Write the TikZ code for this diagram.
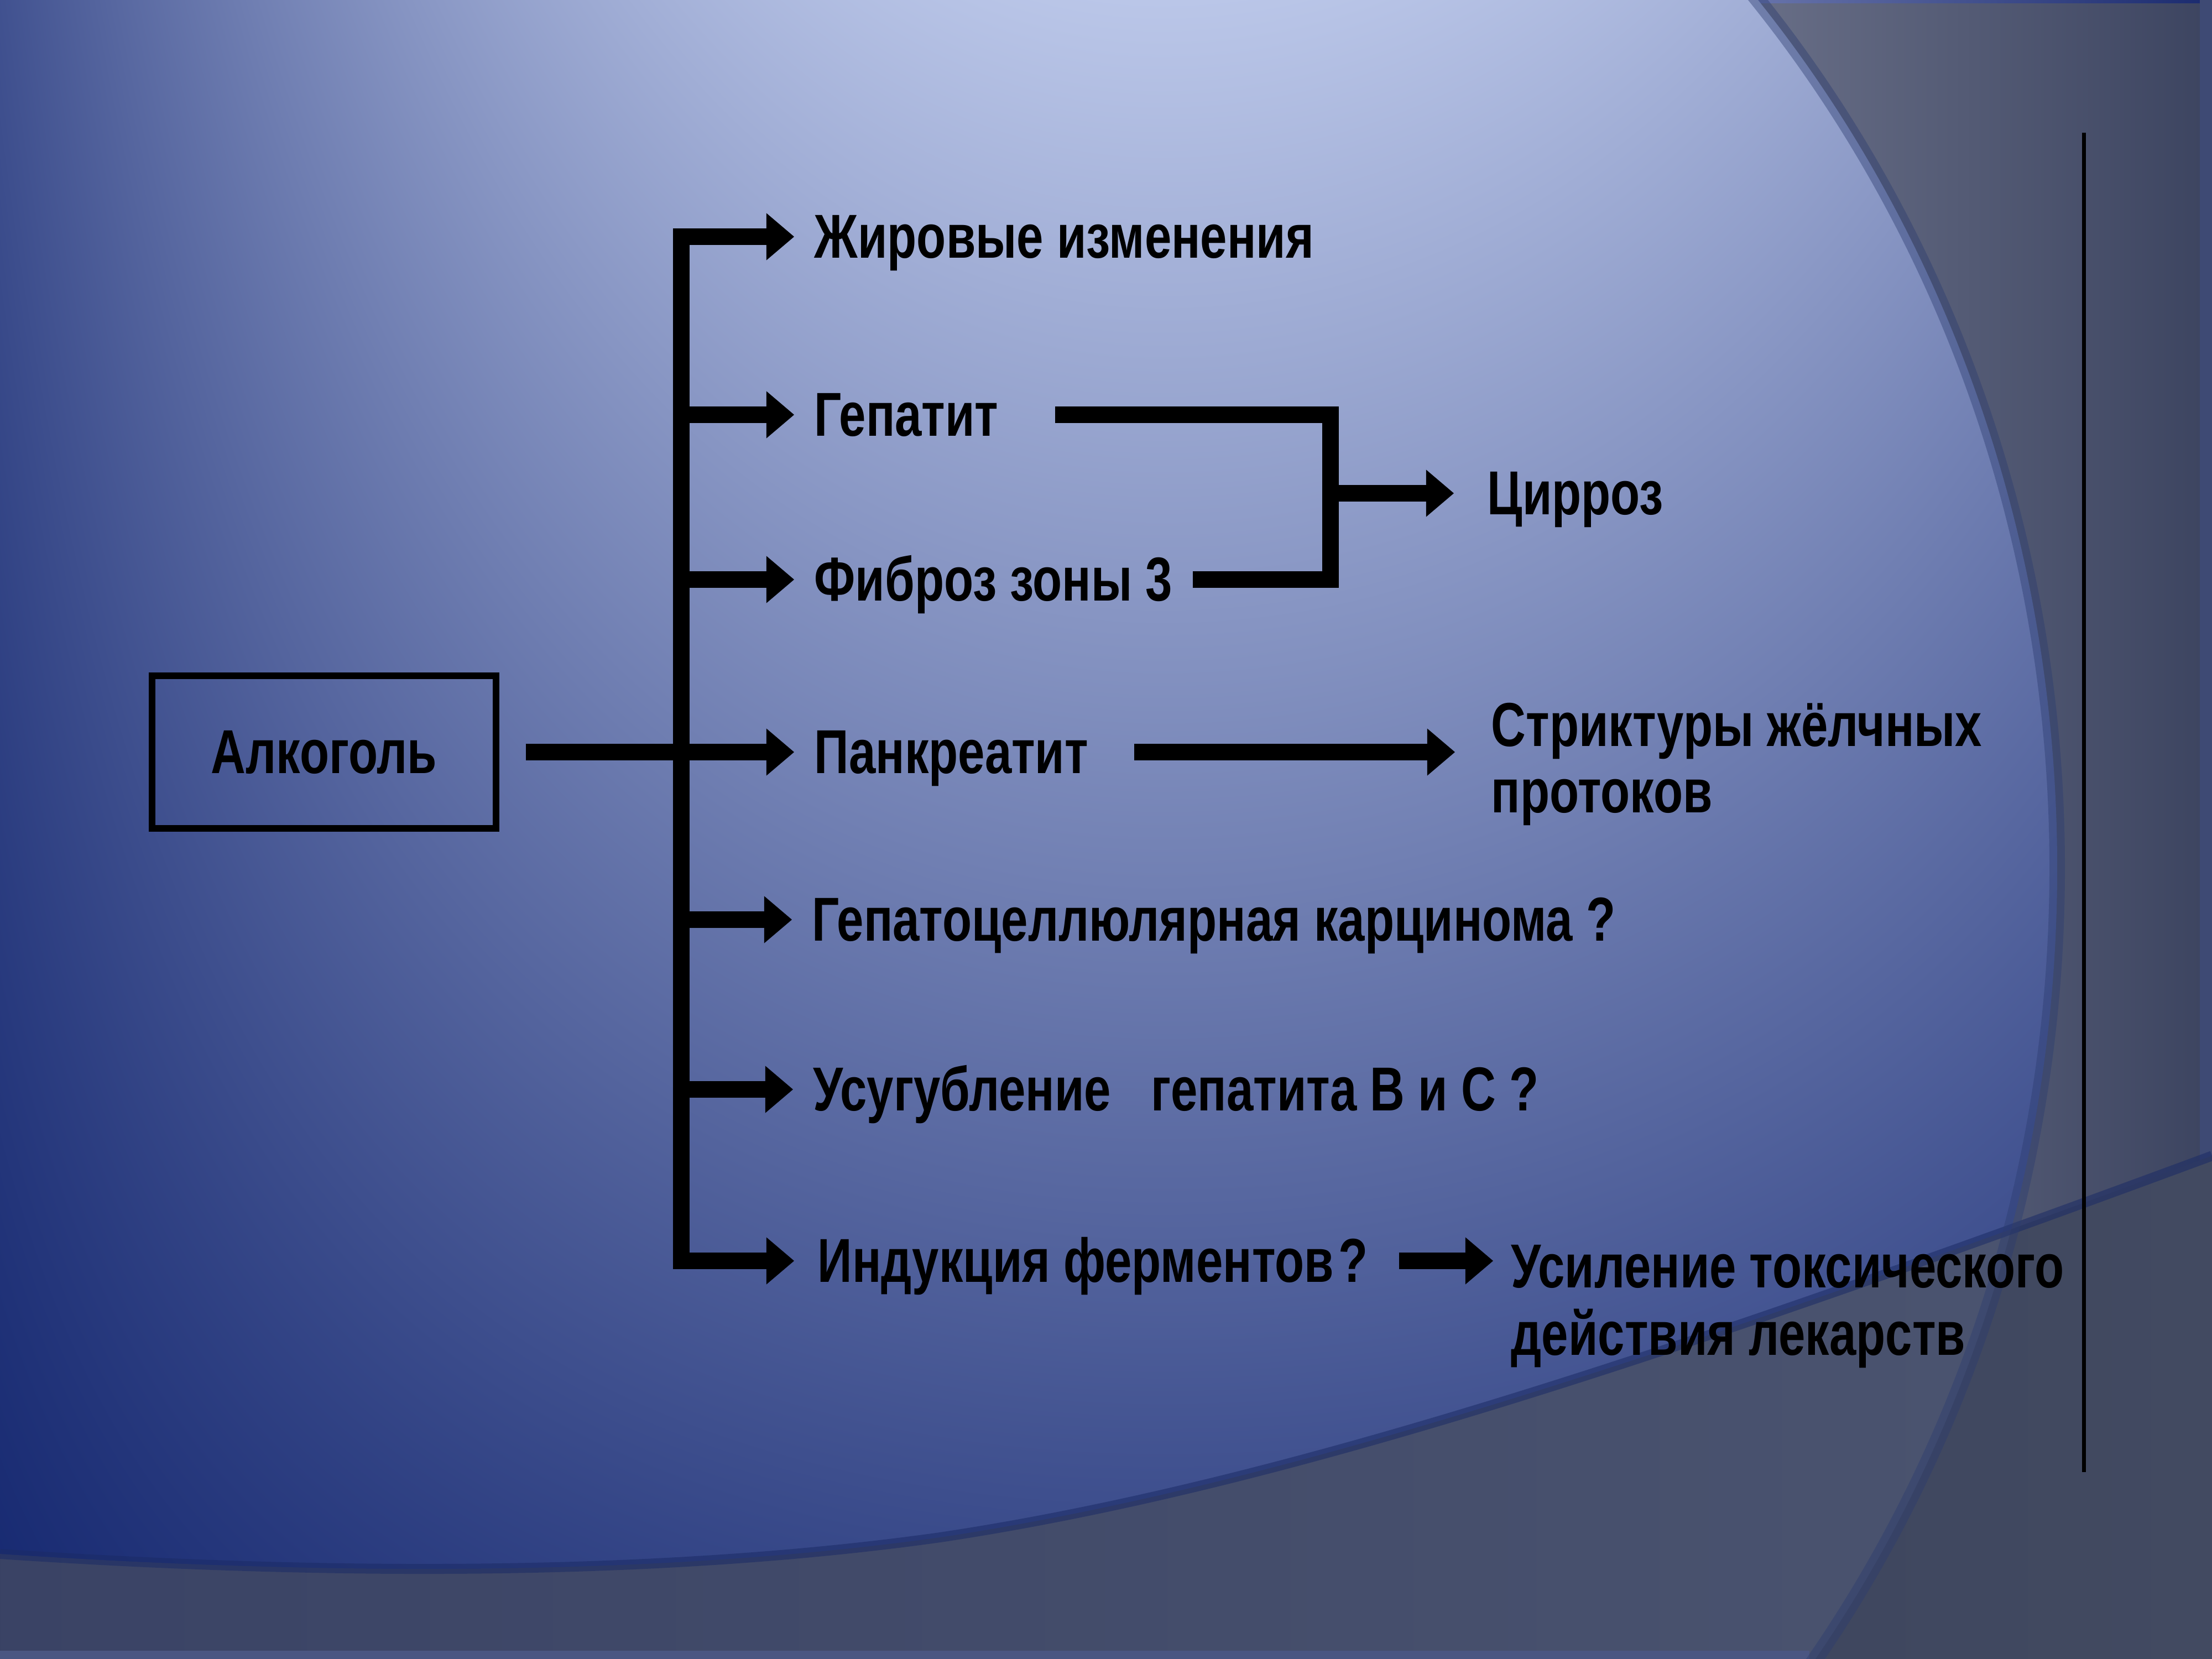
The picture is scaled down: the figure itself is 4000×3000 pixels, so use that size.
\documentclass[tikz,border=0pt]{standalone}
\usepackage{fontspec}
\setmainfont{Liberation Sans}[FakeStretch=0.775]
\usetikzlibrary{arrows.meta,calc}
\definecolor{outL}{HTML}{6C728A}
\definecolor{outR}{HTML}{3C4460}
\definecolor{bandL}{HTML}{3A4365}
\definecolor{bandM}{HTML}{545D78}
\definecolor{bandR}{HTML}{4C5570}
\definecolor{rimc}{HTML}{2C3C70}
\definecolor{curvec}{HTML}{1B2B66}
\definecolor{topL}{HTML}{6E7AB0}
\definecolor{topR}{HTML}{1A2A6E}
\definecolor{rightstrip}{HTML}{3E4A74}
\definecolor{botstrip}{HTML}{4A5682}
% x,y in bp of a 100bp box; the middle square 25..75 is fitted to the slide
\pgfdeclarefunctionalshading{slideglow}{\pgfpointorigin}{\pgfpoint{100bp}{100bp}}{}{
  75 exch sub 60 mul
  dup 0 lt {pop 0} if
  0.00026 mul 1 exch sub
  exch
  25 sub 80 mul 2100 sub
  dup 0 lt {2100 div} {2400 div} ifelse
  dup mul 0.69 mul 1 exch sub
  mul
  dup 0 lt {pop 0} if
  dup 176 mul 10 add 255 div
  exch dup 169 mul 29 add 255 div
  exch 128 mul 104 add 255 div
}
\begin{document}
\begin{tikzpicture}[x=0.01cm,y=-0.01cm,
  txt/.style={inner sep=0pt, anchor=west, text height=0.77cm, text depth=0pt,
    font=\bfseries\fontsize{31.9pt}{36pt}\selectfont},
  alkbox/.style={draw, line width=0.12cm, minimum width=6.21cm, minimum height=2.76cm,
    inner sep=0pt, text height=0.77cm, text depth=0pt,
    font=\bfseries\fontsize{31.9pt}{36pt}\selectfont},
  arr/.style={line width=0.3cm, -{Triangle[length=0.5cm, width=0.85cm, line width=0pt]}},
  plain/.style={line width=0.3cm},
  rim/.style={line width=0.28cm, draw=rimc, draw opacity=0.42}
]
\path[use as bounding box, clip] (0,0) rectangle (4000,3000);
% background
\fill[outL] (0,0) rectangle (3100,3000);
\shade[left color=outL, right color=outR] (3100,0) rectangle (4000,3000);
\shade[left color=topL, right color=topR] (3100,0) rectangle (4000,6);
\fill[rightstrip] (3978,0) rectangle (4000,3000);
\begin{scope}
  \clip (1499,1570) ellipse [x radius=2221, y radius=2400];
  \shade[shading=slideglow] (0,0) rectangle (4000,3000);
\end{scope}
\begin{scope}
  \clip (0,2810) .. controls (600,2850) and (1200,2850) .. (1700,2780)
        .. controls (2300,2690) and (3000,2460) .. (4000,2090)
        -- (4000,3000) -- (0,3000) -- cycle;
  \shade[left color=bandL, middle color=bandM, right color=bandR] (0,2000) rectangle (4000,3000);
  \fill[black, opacity=0.13, even odd rule] (0,0) rectangle (4000,3000)
        (1499,1570) ellipse [x radius=2221, y radius=2400];
  \fill[botstrip] (0,2985) rectangle (3272,3000);
\end{scope}
\draw[line width=0.18cm, draw=curvec, draw opacity=0.55]
  (0,2810) .. controls (600,2850) and (1200,2850) .. (1700,2780)
  .. controls (2300,2690) and (3000,2460) .. (4000,2090);
\draw[rim] (1499,1570) ellipse [x radius=2221, y radius=2400];
% right thin line
\draw[line width=0.07cm] (3768,240) -- (3768,2662);
% nodes
\node[alkbox] (alk) at (586,1360) {Алкоголь};
\node[txt] (t1) at (1472,428) {Жировые изменения};
\node[txt] (t2) at (1472,750) {Гепатит};
\node[txt] (t3) at (1472,1048) {Фиброз зоны 3};
\node[txt] (t4) at (1472,1360) {Панкреатит};
\node[txt] (t5) at (1468,1663) {Гепатоцеллюлярная карцинома ?};
\node[txt] (t6) at (1470,1970) {Усугубление\ \ \ гепатита В и С ?};
\node[txt] (t7) at (1478,2280) {Индукция ферментов\kern0.08cm?};
\node[txt] (cir) at (2689,892) {Цирроз};
\node[txt] (s1) at (2696,1311) {Стриктуры жёлчных};
\node[txt] (s2) at (2696,1431) {протоков};
\node[txt] (u1) at (2732,2290) {Усиление токсического};
\node[txt] (u2) at (2732,2412) {действия лекарств};
\coordinate (tr) at (1232,1360);
\coordinate (br) at (2406,892);
% trunk and branches
\draw[arr, shorten >=0.36cm] (tr |- t4.west) -- (tr |- t1.west) -- (t1.west);
\draw[arr, shorten >=0.42cm] (tr |- t4.west) -- (tr |- t7.west) -- (t7.west);
\foreach \n in {t2,t3,t5,t6} {
  \draw[arr, shorten >=0.36cm] (tr |- \n.west) -- (\n.west);
}
\draw[arr, shorten >=0.36cm] ($(alk.east)+(0.48cm,0)$) -- (t4.west);
% cirrhosis bracket
\draw[plain] ($(t2.east)+(1.02cm,0)$) -| (br) |- ($(t3.east)+(0.36cm,0)$);
\draw[arr, shorten >=0.6cm] (br) -- (cir.west);
% pancreatitis -> strictures
\draw[arr, shorten >=0.65cm] ($(t4.east)+(0.82cm,0)$) -- (t4.east -| s1.west);
% induction -> toxicity
\draw[arr, shorten >=0.32cm] ($(t7.east)+(0.56cm,0)$) -- (t7.east -| u1.west);
\end{tikzpicture}
\end{document}
